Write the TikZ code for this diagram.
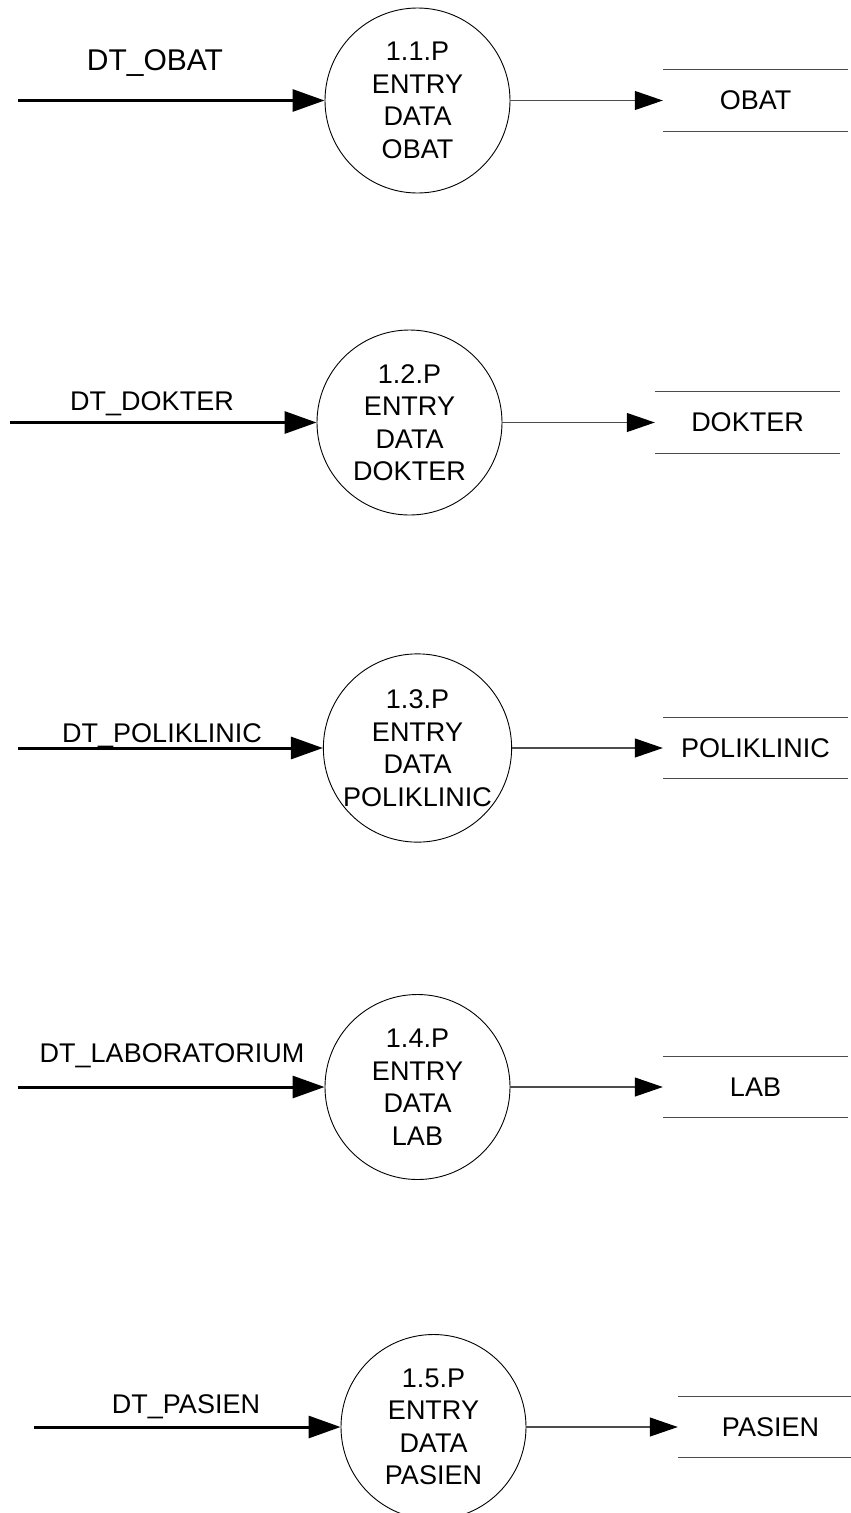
\documentclass[tikz,border=0pt]{standalone}
\usepackage{fontspec}
\setmainfont{Liberation Sans}
\usetikzlibrary{arrows.meta}
\begin{document}
\begin{tikzpicture}[x=1pt,y=-1pt,
  proc/.style={circle, draw=black, line width=0.9pt, minimum size=185pt, inner sep=0pt, align=center, font=\fontsize{27}{32.5}\selectfont},
  dstore/.style={minimum width=185pt, minimum height=61pt, inner sep=0pt, font=\fontsize{27}{32}\selectfont},
  storeline/.style={draw=black!70, line width=1.3pt},
  inflow/.style={line width=3pt, -{Triangle[length=32pt,width=22pt]}},
  outflow/.style={draw=black!70, line width=1.1pt, -{Triangle[length=28pt,width=19pt,color=black,fill=black]}},
  flowlabel/.style={anchor=base, font=\fontsize{27}{32}\selectfont}
]
\useasboundingbox (0,0) rectangle (851,1513);

% Row 1
\node[proc] (p1) at (417.5,100.5) {1.1.P\\ENTRY\\DATA\\OBAT};
\node[dstore] (s1) at (755.5,100.5) {OBAT};
\coordinate (i1) at (18,100.5);
\draw[inflow] (i1) -- (p1.west);
\draw[outflow] (p1.east) -- (s1.west);
\draw[storeline] (s1.north west) -- (s1.north east);
\draw[storeline] (s1.south west) -- (s1.south east);
\node[flowlabel, font=\fontsize{30}{36}\selectfont] (l1) at (155,70.7) {DT\_OBAT};

% Row 2
\node[proc] (p2) at (409.5,422.5) {1.2.P\\ENTRY\\DATA\\DOKTER};
\node[dstore] (s2) at (747.5,422.5) {DOKTER};
\coordinate (i2) at (10,422.5);
\draw[inflow] (i2) -- (p2.west);
\draw[outflow] (p2.east) -- (s2.west);
\draw[storeline] (s2.north west) -- (s2.north east);
\draw[storeline] (s2.south west) -- (s2.south east);
\node[flowlabel] (l2) at (152,410) {DT\_DOKTER};

% Row 3
\node[proc] (p3) at (417.5,748) {1.3.P\\ENTRY\\DATA\\POLIKLINIC};
\node[dstore] (s3) at (755.5,748) {POLIKLINIC};
\coordinate (i3) at (18,748);
\draw[inflow] (i3) -- (p3.west);
\draw[outflow] (p3.east) -- (s3.west);
\draw[storeline] (s3.north west) -- (s3.north east);
\draw[storeline] (s3.south west) -- (s3.south east);
\node[flowlabel] (l3) at (162,742) {DT\_POLIKLINIC};

% Row 4
\node[proc] (p4) at (417.5,1087) {1.4.P\\ENTRY\\DATA\\LAB};
\node[dstore] (s4) at (755.5,1087) {LAB};
\coordinate (i4) at (18,1087);
\draw[inflow] (i4) -- (p4.west);
\draw[outflow] (p4.east) -- (s4.west);
\draw[storeline] (s4.north west) -- (s4.north east);
\draw[storeline] (s4.south west) -- (s4.south east);
\node[flowlabel] (l4) at (172,1062) {DT\_LABORATORIUM};

% Row 5
\node[proc] (p5) at (433.5,1427) {1.5.P\\ENTRY\\DATA\\PASIEN};
\node[dstore] (s5) at (770.5,1427) {PASIEN};
\coordinate (i5) at (34,1427);
\draw[inflow] (i5) -- (p5.west);
\draw[outflow] (p5.east) -- (s5.west);
\draw[storeline] (s5.north west) -- (s5.north east);
\draw[storeline] (s5.south west) -- (s5.south east);
\node[flowlabel] (l5) at (186,1413) {DT\_PASIEN};
\end{tikzpicture}
\end{document}
